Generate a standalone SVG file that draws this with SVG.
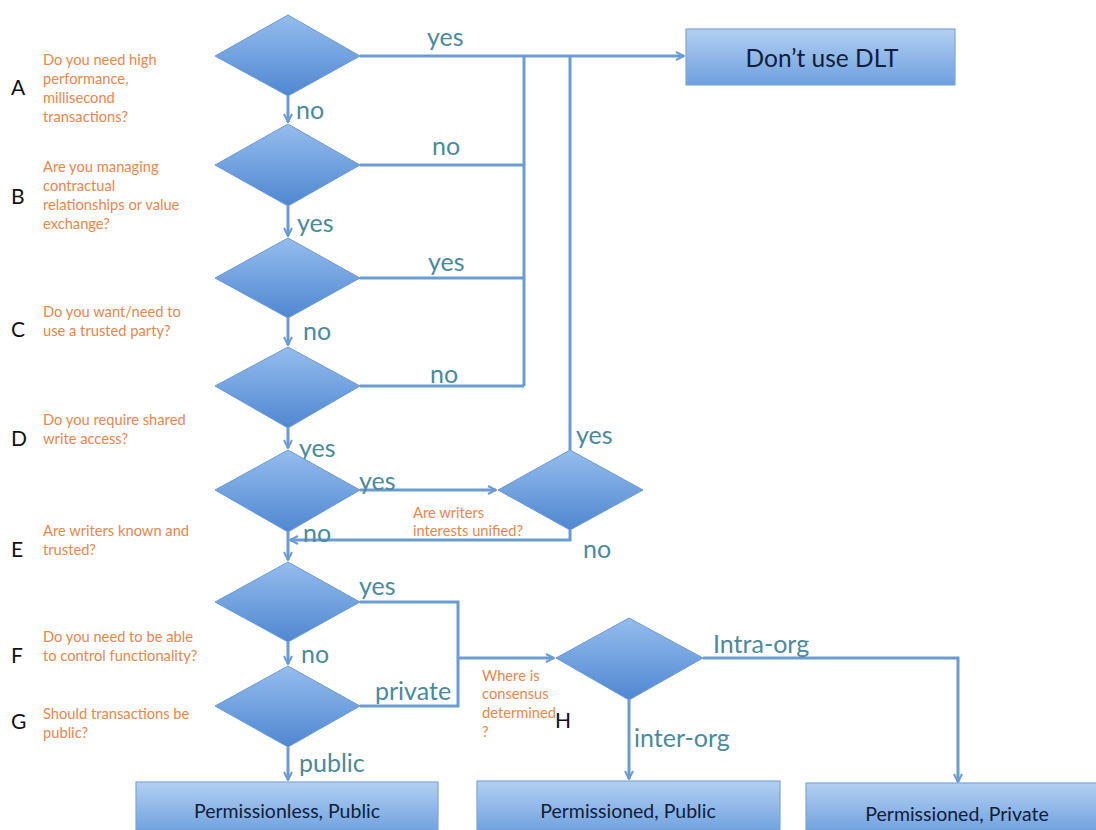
<svg xmlns="http://www.w3.org/2000/svg" width="1096" height="830" viewBox="0 0 1096 830">
<defs>
<linearGradient id="dg" x1="0" y1="0" x2="0" y2="1"><stop offset="0" stop-color="#95bdee"/><stop offset="1" stop-color="#4f87d0"/></linearGradient>
<linearGradient id="rg" x1="0" y1="0" x2="0" y2="1"><stop offset="0" stop-color="#b3d0f2"/><stop offset="1" stop-color="#6d9fdd"/></linearGradient>
<marker id="ah" viewBox="0 0 10 10" refX="9" refY="5" markerWidth="10" markerHeight="10" markerUnits="userSpaceOnUse" orient="auto"><path d="M1,1 L9,5 L1,9" fill="none" stroke="#6a9bd1" stroke-width="2"/></marker>
<style>
.d{fill:url(#dg);stroke:#6b99d3;stroke-width:1}
.r{fill:url(#rg);stroke:#7ea6d8;stroke-width:1.2}
.c{fill:none;stroke:#6a9bd1;stroke-width:3}
.lb{font-family:Lato,"Open Sans",sans-serif;font-size:25px;fill:#4a8a9c}
.q{font-family:Lato,"Open Sans",sans-serif;font-size:14.7px;fill:#e8864e}
.L{font-family:Lato,"Open Sans",sans-serif;font-size:21px;fill:#111}
.rt{font-family:Lato,"Open Sans",sans-serif;fill:#10203a;text-anchor:middle;font-size:19.5px}
.big{font-size:24.5px}
</style>
</defs>
<rect width="1096" height="830" fill="#fff"/>
<g id="connectors">
<path class="c" d="M360,56 H684" marker-end="url(#ah)"/>
<path class="c" d="M524,56 V386"/>
<path class="c" d="M570,56 V450"/>
<path class="c" d="M360,165 H524"/>
<path class="c" d="M360,278 H524"/>
<path class="c" d="M360,386 H524"/>
<path class="c" d="M288,96 V122" marker-end="url(#ah)"/>
<path class="c" d="M288,206 V236" marker-end="url(#ah)"/>
<path class="c" d="M288,318 V345" marker-end="url(#ah)"/>
<path class="c" d="M288,428 V448" marker-end="url(#ah)"/>
<path class="c" d="M288,532 V560" marker-end="url(#ah)"/>
<path class="c" d="M288,642 V664" marker-end="url(#ah)"/>
<path class="c" d="M288,747 V780" marker-end="url(#ah)"/>
<path class="c" d="M360,490 H496" marker-end="url(#ah)"/>
<path class="c" d="M570,530 V540 H290" marker-end="url(#ah)"/>
<path class="c" d="M360,602 H458 V706 H360"/>
<path class="c" d="M458,658 H554" marker-end="url(#ah)"/>
<path class="c" d="M703,658 H958 V782" marker-end="url(#ah)"/>
<path class="c" d="M629,700 V779" marker-end="url(#ah)"/>
</g>
<g id="labels">
<text class="lb" x="427" y="46">yes</text>
<text class="lb" x="296" y="119">no</text>
<text class="lb" x="432" y="155">no</text>
<text class="lb" x="297" y="232">yes</text>
<text class="lb" x="428" y="271">yes</text>
<text class="lb" x="303" y="340">no</text>
<text class="lb" x="430" y="383">no</text>
<text class="lb" x="299" y="457">yes</text>
<text class="lb" x="576" y="444">yes</text>
<text class="lb" x="359" y="490">yes</text>
<text class="lb" x="303" y="542">no</text>
<text class="lb" x="583" y="558">no</text>
<text class="lb" x="359" y="595">yes</text>
<text class="lb" x="301" y="663">no</text>
<text class="lb" x="375" y="700">private</text>
<text class="lb" x="299" y="772">public</text>
<text class="lb" x="713" y="653">Intra-org</text>
<text class="lb" x="634" y="747">inter-org</text>
</g>
<g id="qA"><text class="L" x="11" y="95">A</text><text class="q"><tspan x="43" y="65">Do you need high</tspan><tspan x="43" y="84">performance,</tspan><tspan x="43" y="103">millisecond</tspan><tspan x="43" y="122">transactions?</tspan></text></g>
<g id="qB"><text class="L" x="11" y="204">B</text><text class="q"><tspan x="43" y="172">Are you managing</tspan><tspan x="43" y="191">contractual</tspan><tspan x="43" y="210">relationships or value</tspan><tspan x="43" y="229">exchange?</tspan></text></g>
<g id="qC"><text class="L" x="11" y="337">C</text><text class="q"><tspan x="43" y="317">Do you want/need to</tspan><tspan x="43" y="336">use a trusted party?</tspan></text></g>
<g id="qD"><text class="L" x="11" y="446">D</text><text class="q"><tspan x="43" y="425">Do you require shared</tspan><tspan x="43" y="444">write access?</tspan></text></g>
<g id="qE"><text class="L" x="11" y="557">E</text><text class="q"><tspan x="43" y="536">Are writers known and</tspan><tspan x="43" y="555">trusted?</tspan></text></g>
<g id="qF"><text class="L" x="11" y="663">F</text><text class="q"><tspan x="43" y="642">Do you need to be able</tspan><tspan x="43" y="661">to control functionality?</tspan></text></g>
<g id="qG"><text class="L" x="11" y="729">G</text><text class="q"><tspan x="43" y="719">Should transactions be</tspan><tspan x="43" y="738">public?</tspan></text></g>
<g id="qWriters"><text class="q"><tspan x="413" y="518">Are writers</tspan><tspan x="413" y="536">interests unified?</tspan></text></g>
<g id="qH"><text class="q"><tspan x="482" y="681">Where is</tspan><tspan x="482" y="699">consensus</tspan><tspan x="482" y="718">determined</tspan><tspan x="482" y="737">?</tspan></text><text class="L" x="555" y="728">H</text></g>
<g id="dA"><polygon class="d" points="288,15 360,56 288,96 215,56"/></g>
<g id="dB"><polygon class="d" points="288,124 360,165 288,206 215,165"/></g>
<g id="dC"><polygon class="d" points="288,238 360,278 288,318 215,278"/></g>
<g id="dD"><polygon class="d" points="288,347 360,386 288,428 215,386"/></g>
<g id="dE"><polygon class="d" points="288,450 360,490 288,532 215,490"/></g>
<g id="dW"><polygon class="d" points="570,450 643,490 570,530 498,490"/></g>
<g id="dF"><polygon class="d" points="288,562 360,602 288,642 215,602"/></g>
<g id="dG"><polygon class="d" points="288,666 360,706 288,747 215,706"/></g>
<g id="dH"><polygon class="d" points="629,618 703,658 629,700 556,658"/></g>
<g id="nDont"><rect class="r" x="686" y="29" width="269" height="56"/><text class="rt big" x="822" y="67">Don’t use DLT</text></g>
<g id="nPL"><rect class="r" x="136" y="782" width="302" height="52"/><text class="rt" x="287" y="818">Permissionless, Public</text></g>
<g id="nPP"><rect class="r" x="477" y="781" width="303" height="53"/><text class="rt" x="628" y="818">Permissioned, Public</text></g>
<g id="nPV"><rect class="r" x="806" y="783" width="302" height="51"/><text class="rt" x="957" y="821">Permissioned, Private</text></g>
</svg>
